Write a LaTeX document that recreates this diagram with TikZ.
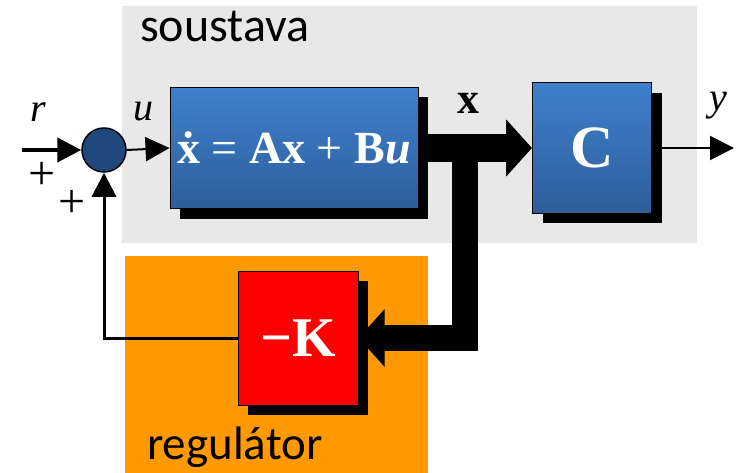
\documentclass[tikz,border=0pt]{standalone}
\usepackage{fontspec}
\setmainfont{Liberation Serif}
\newfontfamily\boxfont{Carlito}
\usetikzlibrary{arrows.meta,shadows}

\definecolor{blocktop}{RGB}{62,128,204}
\definecolor{blockbot}{RGB}{46,94,155}
\definecolor{sumblue}{RGB}{31,73,125}
\definecolor{plantgray}{RGB}{232,232,232}
\definecolor{regorange}{RGB}{255,153,0}

\begin{document}
\begin{tikzpicture}[x=1pt, y=-1pt,
    block/.style = {draw, line width=1pt, inner sep=0pt, text=white, font=\bfseries,
        drop shadow={shadow xshift=10pt, shadow yshift=-10pt, fill=black, opacity=1}},
    blueblock/.style = {block, top color=blocktop, bottom color=blockbot},
    sig/.style = {-{Triangle[length=24pt, width=24pt]}, line width=2pt},
    bus/.style = {-{Triangle[length=26pt, width=56pt]}, line width=28pt},
    lbl/.style = {inner sep=0pt, font=\fontsize{40}{40}\selectfont\itshape}]
    \useasboundingbox (0,0) rectangle (738,473);

    % background areas
    \fill[plantgray] (122,6) rectangle (697,243);
    \fill[regorange] (125,256) rectangle (428,473);
    \node[anchor=base west, inner sep=0pt, font=\boxfont\fontsize{48}{48}\selectfont] (soustava) at (140,42) {soustava};
    \node[anchor=base west, inner sep=0pt, font=\boxfont\fontsize{47}{47}\selectfont] (regulator) at (147,459) {regulátor};

    % blocks
    \node[draw, circle, fill=sumblue, line width=1.5pt, minimum size=44pt] (sum) at (104,150) {};
    \node[blueblock, minimum width=248pt, minimum height=121pt, font=\bfseries\fontsize{46}{46}\selectfont] (plant) at (294,148) {ẋ \textmd{=} Ax \textmd{+} B\textit{u}};
    \node[blueblock, minimum width=119pt, minimum height=130pt, font=\bfseries\fontsize{60}{60}\selectfont] (out) at (592,148) {C};
    \node[block, fill=red, minimum width=120pt, minimum height=134pt, font=\bfseries\fontsize{56}{56}\selectfont] (gain) at (298,338) {−K};

    % signals
    \coordinate (rin) at (22,150);
    \coordinate (yout) at (734,148);
    \coordinate (tap) at (465,148);
    \draw[sig, line width=4pt] (rin) -- (sum.west);
    \draw[sig] (sum.east) -- (plant.west);
    \draw[bus] (plant.east) -- (out.west);
    \draw[sig] (out.east) -- (yout);
    \draw[bus, line width=26pt] (tap) |- (gain.east);
    \draw[sig, line width=3pt] (gain.west) -| (sum.south);

    % labels
    \node[lbl] (r) at (38,112) {r};
    \node[lbl] (u) at (143,112) {u};
    \node[lbl] (y) at (718,106) {y};
    \node[lbl, font=\fontsize{44}{44}\selectfont\bfseries] (x) at (468,103) {x};
    \node[lbl, font=\fontsize{48}{48}\selectfont] (plus1) at (42,176) {+};
    \node[lbl, font=\fontsize{48}{48}\selectfont] (plus2) at (72,204) {+};
\end{tikzpicture}
\end{document}
